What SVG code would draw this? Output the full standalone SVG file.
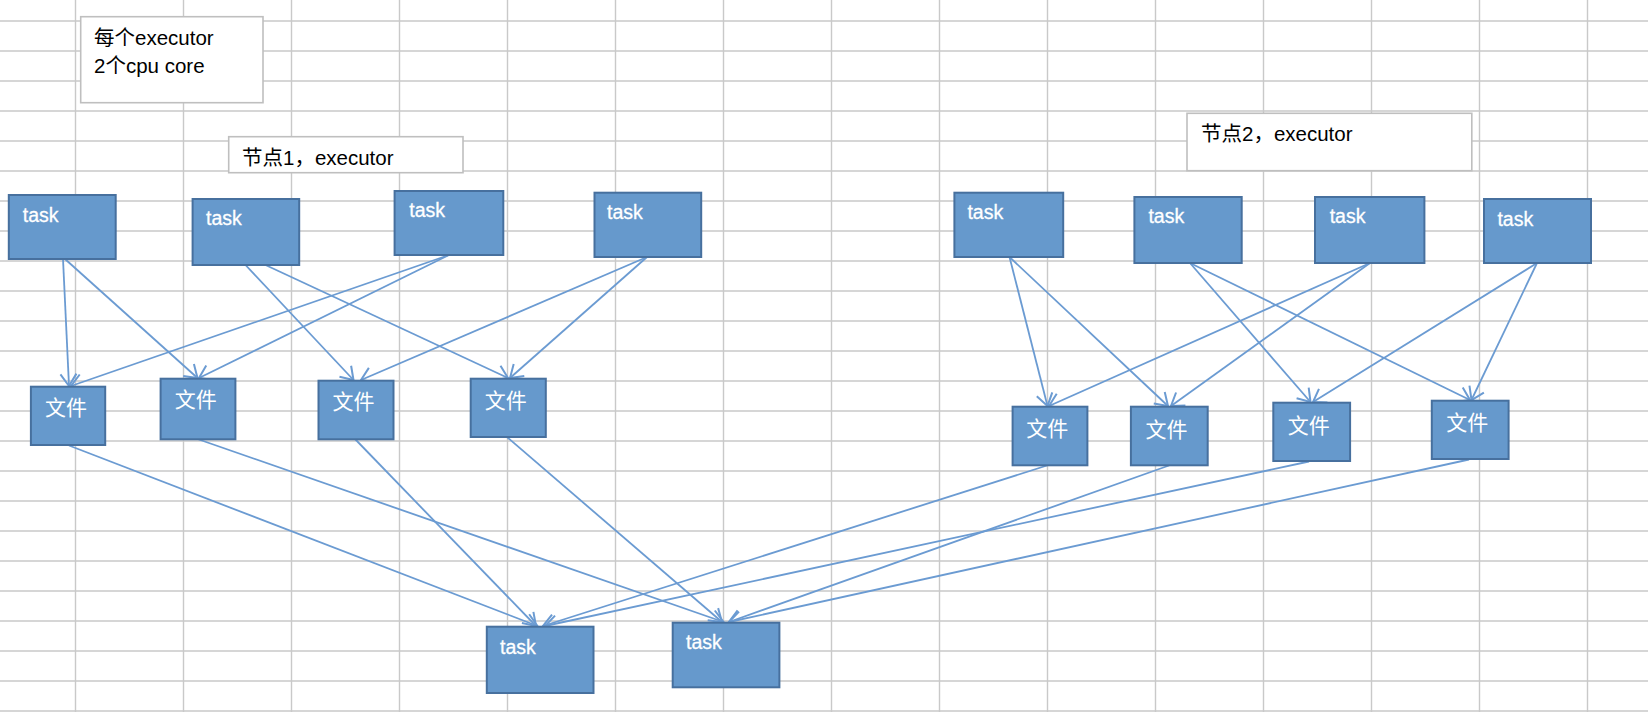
<svg xmlns="http://www.w3.org/2000/svg" width="1648" height="712" viewBox="0 0 1648 712">
<style>
.grid{stroke:#c9c9c9;stroke-width:1.4;fill:none}
.note{fill:#ffffff;stroke:#bfbfbf;stroke-width:1.6}
.ntext{font-family:"Liberation Sans","Noto Sans CJK SC",sans-serif;font-size:20.5px;fill:#000000}
.box{fill:#6699cc;stroke:#47709e;stroke-width:2}
.btext{font-family:"Liberation Sans","Noto Sans CJK SC",sans-serif;font-size:19.5px;fill:#ffffff;stroke:#ffffff;stroke-width:0.3}
.ftext{font-family:"Noto Sans CJK SC",sans-serif;font-size:21px;fill:#ffffff}
.conn line{stroke:#6b9bd2;stroke-width:1.8;fill:none;marker-end:url(#arr)}
</style>
<defs>
<marker id="arr" markerUnits="userSpaceOnUse" markerWidth="30" markerHeight="30" viewBox="-15 -15 30 30" refX="0" refY="0" orient="auto" overflow="visible">
<path d="M-12,-8 L0,0 L-12,8" fill="none" stroke="#6b9bd2" stroke-width="2"/>
</marker>
</defs>
<rect x="0" y="0" width="1648" height="712" fill="#ffffff"/>
<path class="grid" d="M75.5 0V712M183.5 0V712M291.5 0V712M399.5 0V712M507.5 0V712M615.5 0V712M723.5 0V712M831.5 0V712M939.5 0V712M1047.5 0V712M1155.5 0V712M1263.5 0V712M1371.5 0V712M1479.5 0V712M1587.5 0V712M0 21H1648M0 51H1648M0 81H1648M0 111H1648M0 141H1648M0 171H1648M0 201H1648M0 231H1648M0 261H1648M0 291H1648M0 321H1648M0 351H1648M0 381H1648M0 411H1648M0 441H1648M0 471H1648M0 501H1648M0 531H1648M0 561H1648M0 591H1648M0 621H1648M0 651H1648M0 681H1648M0 711H1648"/>

<g class="conn" id="connectors">
<line x1="63" y1="259" x2="69" y2="386"/>
<line x1="65" y1="259" x2="197.5" y2="378"/>
<line x1="245.5" y1="265" x2="353.5" y2="380"/>
<line x1="265.5" y1="265" x2="508" y2="378"/>
<line x1="449" y1="255" x2="71" y2="386"/>
<line x1="449" y1="255" x2="199" y2="378"/>
<line x1="647" y1="257" x2="361" y2="380"/>
<line x1="647" y1="257" x2="510" y2="378"/>
<line x1="1009.5" y1="257" x2="1047.5" y2="406"/>
<line x1="1009.5" y1="257" x2="1168" y2="406"/>
<line x1="1190" y1="263" x2="1310.5" y2="402"/>
<line x1="1190" y1="263" x2="1470" y2="400"/>
<line x1="1370" y1="263" x2="1049" y2="406"/>
<line x1="1370" y1="263" x2="1171" y2="406"/>
<line x1="1537" y1="263" x2="1313" y2="402"/>
<line x1="1537" y1="263" x2="1471.5" y2="400"/>
<line x1="69" y1="445.5" x2="537.5" y2="626"/>
<line x1="197.5" y1="439" x2="723.5" y2="622"/>
<line x1="355" y1="439" x2="536" y2="626"/>
<line x1="507" y1="437" x2="722" y2="622"/>
<line x1="1047" y1="465.5" x2="543" y2="626"/>
<line x1="1169" y1="465.5" x2="729" y2="622"/>
<line x1="1309" y1="461.5" x2="545" y2="626"/>
<line x1="1469" y1="459.5" x2="729" y2="622"/>
</g>

<g id="note-executor">
<rect class="note" x="80.7" y="16.7" width="182.3" height="86"/>
<text class="ntext" x="94" y="45">每个executor</text>
<text class="ntext" x="94" y="72.5">2个cpu core</text>
</g>
<g id="label-node1">
<rect class="note" x="228.7" y="136.7" width="234.3" height="36"/>
<text class="ntext" x="242" y="165">节点1，executor</text>
</g>
<g id="label-node2">
<rect class="note" x="1187" y="113.3" width="284.8" height="57.4"/>
<text class="ntext" x="1201" y="140.7">节点2，executor</text>
</g>

<g id="task1"><rect class="box" x="8.8" y="195" width="106.9" height="64"/><text class="btext" x="22.8" y="221.7">task</text></g>
<g id="task2"><rect class="box" x="192.6" y="199" width="106.6" height="66"/><text class="btext" x="206" y="225">task</text></g>
<g id="task3"><rect class="box" x="394.6" y="191" width="108.7" height="64"/><text class="btext" x="409.3" y="217.3">task</text></g>
<g id="task4"><rect class="box" x="594.5" y="192.7" width="106.7" height="64.3"/><text class="btext" x="607" y="219">task</text></g>
<g id="task5"><rect class="box" x="954.4" y="192.7" width="108.8" height="64.3"/><text class="btext" x="967.4" y="219">task</text></g>
<g id="task6"><rect class="box" x="1134.4" y="197" width="107.3" height="66"/><text class="btext" x="1148.4" y="222.7">task</text></g>
<g id="task7"><rect class="box" x="1315" y="197" width="109.4" height="66"/><text class="btext" x="1329.7" y="222.7">task</text></g>
<g id="task8"><rect class="box" x="1484" y="199" width="107" height="64"/><text class="btext" x="1497.4" y="226">task</text></g>

<g id="file1"><rect class="box" x="30.9" y="386.7" width="74.3" height="58.3"/><text class="ftext" x="44.9" y="415">文件</text></g>
<g id="file2"><rect class="box" x="160.6" y="378.7" width="74.8" height="60.6"/><text class="ftext" x="174.7" y="406.7">文件</text></g>
<g id="file3"><rect class="box" x="318.5" y="380.7" width="75" height="58.6"/><text class="ftext" x="332.5" y="409.3">文件</text></g>
<g id="file4"><rect class="box" x="470.7" y="378.7" width="75.1" height="58.3"/><text class="ftext" x="484.7" y="408.3">文件</text></g>
<g id="file5"><rect class="box" x="1012.6" y="406.7" width="74.8" height="58.6"/><text class="ftext" x="1026.3" y="436">文件</text></g>
<g id="file6"><rect class="box" x="1130.9" y="406.7" width="76.8" height="58.6"/><text class="ftext" x="1145.6" y="436.7">文件</text></g>
<g id="file7"><rect class="box" x="1273.3" y="402.7" width="76.8" height="58.3"/><text class="ftext" x="1287.7" y="432.7">文件</text></g>
<g id="file8"><rect class="box" x="1431.8" y="400.7" width="76.8" height="58.3"/><text class="ftext" x="1446.2" y="430">文件</text></g>

<g id="task-out1"><rect class="box" x="486.8" y="626.7" width="106.7" height="66.3"/><text class="btext" x="500" y="653.7">task</text></g>
<g id="task-out2"><rect class="box" x="672.7" y="622.7" width="106.7" height="64.6"/><text class="btext" x="686" y="649.3">task</text></g>
</svg>
